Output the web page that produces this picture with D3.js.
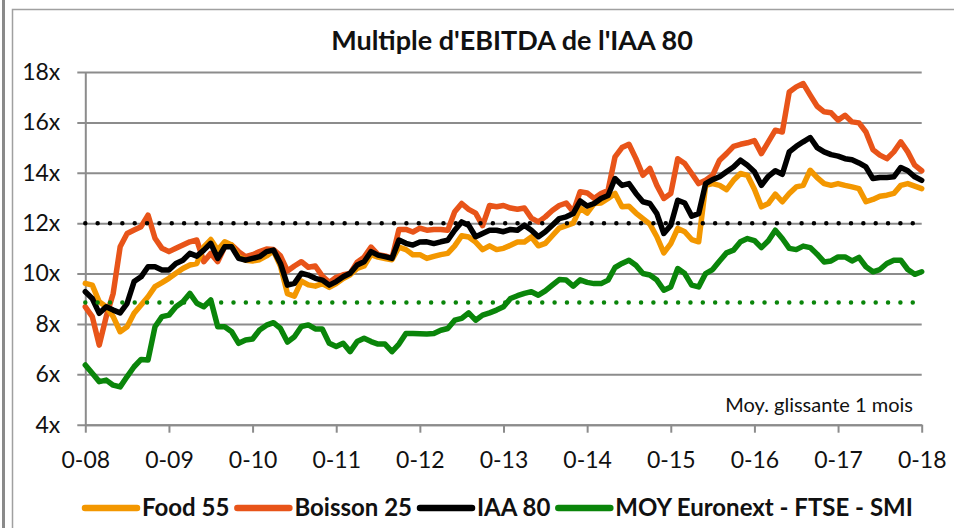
<!DOCTYPE html>
<html>
<head>
<meta charset="utf-8">
<script src="https://cdn.jsdelivr.net/npm/d3@7"></script>
<style>
  body { margin: 0; background: #fff; }
  svg { display: block; font-family: Lato, "Open Sans", sans-serif; }
</style>
</head>
<body>
<svg id="chart" width="954" height="528"></svg>
<script>
// monthly values, janv-08 .. janv-18 (121 points)
var yearLabels = ["0-08", "0-09", "0-10", "0-11", "0-12", "0-13", "0-14", "0-15", "0-16", "0-17", "0-18"];
var yTicks = [4, 6, 8, 10, 12, 14, 16, 18];

var food55 = [9.61, 9.54, 8.88, 8.68, 8.29, 7.69, 7.89, 8.42, 8.75, 9.08, 9.48, 9.64, 9.81, 10.01, 10.2, 10.34, 10.4, 11.06, 11.35, 10.93, 11.26, 11.13, 10.67, 10.53, 10.5,
  10.55, 10.7, 10.9, 10.3, 9.2, 9.1, 9.7, 9.55, 9.5, 9.6, 9.45, 9.6, 9.8, 9.95, 10.2, 10.3, 10.75, 10.65, 10.6, 10.55, 11.05, 10.95, 10.75, 10.75,
  10.6, 10.68, 10.75, 10.8, 11.1, 11.5, 11.45, 11.25, 10.95, 11.1, 10.95, 11.0, 11.12, 11.25, 11.25, 11.45, 11.1, 11.2, 11.5, 11.8, 11.9, 12.0, 12.6, 12.4,
  12.78, 12.8, 12.98, 13.18, 12.65, 12.67, 12.4, 12.18, 11.96, 11.46, 10.82, 11.19, 11.79, 11.66, 11.35, 11.26, 13.5, 13.57, 13.5, 13.33, 13.7, 13.97, 13.9, 13.35,
  12.65, 12.78, 13.15, 12.85, 13.18, 13.44, 13.5, 14.1, 13.81, 13.57, 13.5, 13.57, 13.5, 13.44, 13.37, 12.85, 12.94, 13.07, 13.11, 13.18, 13.5, 13.57, 13.47, 13.37];

var boisson25 = [8.68, 8.29, 7.16, 8.29, 9.21, 11.06, 11.59, 11.73, 11.86, 12.32, 11.4, 11.0, 10.87, 11.0, 11.13, 11.26, 11.33, 10.47, 10.8, 10.47, 11.06, 11.13, 10.87, 10.67, 10.75,
  10.87, 10.97, 10.95, 10.7, 10.1, 10.3, 10.47, 10.25, 10.3, 9.9, 9.65, 9.85, 9.95, 10.0, 10.45, 10.65, 11.05, 10.75, 10.7, 10.6, 11.75, 11.75, 11.65, 11.8,
  11.72, 11.75, 11.75, 11.72, 12.45, 12.78, 12.55, 12.4, 11.9, 12.7, 12.65, 12.7, 12.6, 12.55, 12.6, 12.2, 12.05, 12.25, 12.5, 12.7, 12.8, 12.45, 13.25, 13.2,
  12.98, 13.18, 13.3, 14.63, 15.0, 15.13, 14.56, 13.9, 14.17, 13.5, 12.98, 13.18, 14.56, 14.37, 13.97, 13.57, 13.7, 13.9, 14.5, 14.76, 15.05, 15.13, 15.19, 15.28,
  14.76, 15.23, 15.69, 15.62, 17.21, 17.41, 17.54, 17.08, 16.64, 16.42, 16.38, 16.09, 16.28, 16.02, 15.98, 15.62, 14.92, 14.7, 14.56, 14.83, 15.23, 14.83, 14.3, 14.08];

var iaa80 = [9.28, 9.01, 8.42, 8.68, 8.55, 8.44, 8.82, 9.68, 9.87, 10.27, 10.27, 10.14, 10.14, 10.4, 10.53, 10.8, 10.69, 10.93, 11.2, 10.6, 11.06, 11.06, 10.6, 10.53, 10.6,
  10.67, 10.87, 10.93, 10.4, 9.54, 9.61, 10.01, 9.94, 9.81, 9.74, 9.54, 9.68, 9.87, 10.01, 10.34, 10.47, 10.87, 10.73, 10.67, 10.6, 11.33, 11.2, 11.13, 11.25,
  11.26, 11.19, 11.26, 11.32, 11.72, 12.05, 11.92, 11.46, 11.59, 11.72, 11.72, 11.66, 11.75, 11.72, 11.92, 11.72, 11.46, 11.66, 11.92, 12.18, 12.25, 12.38, 12.88, 12.68,
  12.78, 12.98, 13.1, 13.77, 13.5, 13.57, 13.18, 12.85, 12.78, 12.38, 11.59, 11.92, 12.91, 12.8, 12.28, 12.38, 13.57, 13.73, 13.84, 14.04, 14.23, 14.5, 14.3, 14.04,
  13.5, 13.86, 14.08, 13.94, 14.83, 15.05, 15.23, 15.4, 15.0, 14.83, 14.72, 14.66, 14.56, 14.52, 14.39, 14.23, 13.77, 13.81, 13.81, 13.84, 14.21, 14.08, 13.84, 13.7];

var moyIndices = [6.37, 6.04, 5.71, 5.77, 5.57, 5.5, 5.91, 6.3, 6.59, 6.57, 7.89, 8.29, 8.35, 8.68, 8.88, 9.21, 8.82, 8.68, 8.95, 7.89, 7.89, 7.69, 7.23, 7.36, 7.4,
  7.76, 7.95, 8.05, 7.82, 7.28, 7.49, 7.9, 7.96, 7.8, 7.8, 7.23, 7.1, 7.23, 6.9, 7.3, 7.43, 7.3, 7.2, 7.2, 6.9, 7.2, 7.62, 7.62, 7.61,
  7.6, 7.62, 7.75, 7.82, 8.15, 8.22, 8.44, 8.15, 8.35, 8.44, 8.55, 8.68, 9.01, 9.12, 9.21, 9.28, 9.14, 9.31, 9.54, 9.76, 9.74, 9.5, 9.75, 9.65,
  9.6, 9.6, 9.74, 10.24, 10.4, 10.53, 10.33, 10.0, 9.94, 9.74, 9.34, 9.47, 10.2, 10.0, 9.54, 9.47, 10.0, 10.16, 10.5, 10.82, 10.93, 11.26, 11.39, 11.31,
  11.03, 11.3, 11.72, 11.39, 11.0, 10.95, 11.09, 11.03, 10.77, 10.46, 10.5, 10.66, 10.66, 10.5, 10.64, 10.27, 10.07, 10.16, 10.4, 10.53, 10.53, 10.16, 9.97, 10.07];

// moyennes long terme (pointillés)
var avgIaa = 12;
var avgMoy = 8.85;

var seriesNames = ["Food 55", "Boisson 25", "IAA 80", "MOY Euronext - FTSE - SMI"];
var seriesColors = ["#f39700", "#e85419", "#000000", "#0a850a"];

var svg = d3.select("#chart");

// cadre
svg.append("rect").attr("x", 2).attr("y", 0).attr("width", 3).attr("height", 528).attr("fill", "#8a8a8a");
svg.append("path").attr("d", "M12.5,528V9.5H954").attr("fill", "none").attr("stroke", "#a0a0a0").attr("stroke-width", 1.5);

var plotLeft = 85.3, plotRight = 921.7, plotTop = 72, plotBottom = 424.7;
var x = d3.scaleLinear().domain([0, 120]).range([plotLeft, plotRight]);
var y = d3.scaleLinear().domain([4, 18]).range([plotBottom, plotTop]);

svg.append("text")
    .attr("x", 512).attr("y", 50)
    .attr("text-anchor", "middle")
    .attr("font-size", "27px").attr("font-weight", "bold")
    .attr("fill", "#111")
    .text("Multiple d'EBITDA de l'IAA 80");

// axe y + grille
var gy = svg.append("g").attr("transform", "translate(" + plotLeft + ",0)")
    .call(d3.axisLeft(y).tickValues(yTicks).tickSizeInner(-(plotRight - plotLeft)).tickSizeOuter(0).tickPadding(25)
        .tickFormat(function (d) { return d + "x"; }));
gy.select(".domain").attr("stroke", "#8c8c8c").attr("stroke-width", 2);
gy.selectAll(".tick line").attr("x1", -8).attr("stroke", "#8c8c8c").attr("stroke-width", 2);
gy.selectAll(".tick text").attr("font-size", "23px").attr("fill", "#111").attr("font-family", "Lato, sans-serif");

// axe x
var gx = svg.append("g").attr("transform", "translate(0," + plotBottom + ")")
    .call(d3.axisBottom(x).tickValues(d3.range(0, 121, 12)).tickSizeInner(8).tickSizeOuter(0).tickPadding(19)
        .tickFormat(function (d, i) { return yearLabels[i]; }));
gx.select(".domain").attr("stroke", "#8c8c8c").attr("stroke-width", 2);
gx.selectAll(".tick line").attr("stroke", "#8c8c8c").attr("stroke-width", 2);
gx.selectAll(".tick text").attr("font-size", "23px").attr("fill", "#111").attr("font-family", "Lato, sans-serif");

var line = d3.line()
    .x(function (d, i) { return x(i); })
    .y(function (d) { return y(d); });

var drawOrder = [1, 0, 2, 3];
var allSeries = [food55, boisson25, iaa80, moyIndices];
drawOrder.forEach(function (k) {
    svg.append("path")
        .datum(allSeries[k])
        .attr("d", line)
        .attr("fill", "none")
        .attr("stroke", seriesColors[k])
        .attr("stroke-width", 5.5)
        .attr("stroke-linejoin", "round")
        .attr("stroke-linecap", "round");
});

// pointillés
[[avgIaa, "#000"], [avgMoy, "#0a850a"]].forEach(function (a) {
    svg.append("line")
        .attr("x1", x(0)).attr("x2", x(120))
        .attr("y1", y(a[0])).attr("y2", y(a[0]))
        .attr("stroke", a[1]).attr("stroke-width", 4.5)
        .attr("stroke-linecap", "round")
        .attr("stroke-dasharray", "0 12.35");
});

svg.append("text")
    .attr("x", 913).attr("y", 412)
    .attr("text-anchor", "end")
    .attr("font-size", "20px").attr("fill", "#111")
    .text("Moy. glissante 1 mois");

// légende
var lx = 83, ly = 508;
seriesNames.forEach(function (name, k) {
    svg.append("line")
        .attr("x1", lx + 2).attr("x2", lx + 54)
        .attr("y1", ly).attr("y2", ly)
        .attr("stroke", seriesColors[k]).attr("stroke-width", 6.5)
        .attr("stroke-linecap", "round");
    var t = svg.append("text")
        .attr("x", lx + 59).attr("y", ly + 8)
        .attr("font-size", "24px").attr("font-weight", "bold").attr("fill", "#111")
        .text(name);
    lx = lx + 59 + t.node().getComputedTextLength() + 6;
});
</script>
</body>
</html>
